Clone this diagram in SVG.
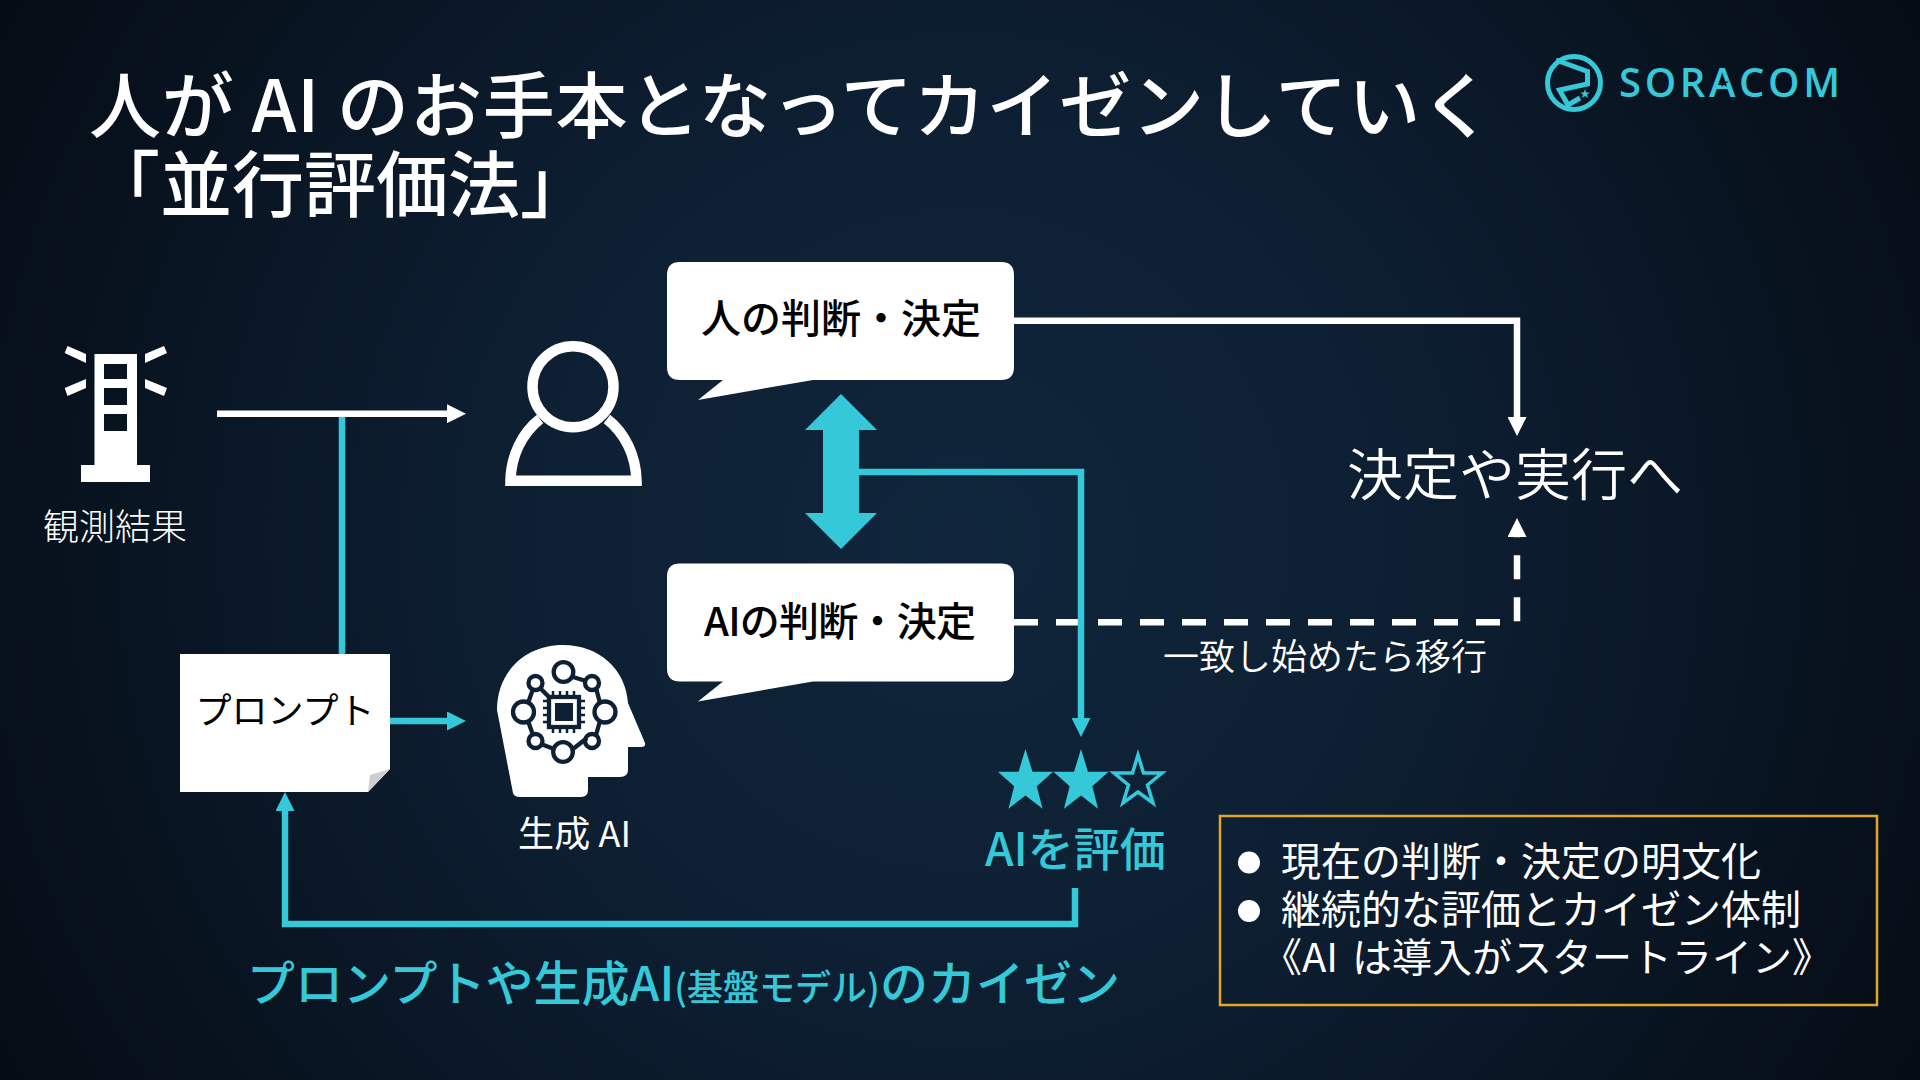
<svg xmlns="http://www.w3.org/2000/svg" xmlns:xlink="http://www.w3.org/1999/xlink" width="1920" height="1080" viewBox="0 0 1920 1080">
<style>
text{font-family:"Noto Sans CJK JP","Noto Sans",sans-serif;fill:#fff}
.w{fill:#fff}.t{fill:#35c8d8}
.lt{fill:none;stroke:#35c8d8;stroke-width:6.500}
.lw{fill:none;stroke:#fff;stroke-width:6.500}
.dk{fill:none;stroke:#0e2033;stroke-width:4.300}
.bt{font-size:40px;font-weight:500;fill:#000;text-anchor:middle}
.bl{font-size:40px;font-weight:400}
</style>
<defs>
<radialGradient id="bg" gradientUnits="userSpaceOnUse" cx="960" cy="540" r="1100">
<stop offset="0" stop-color="#10263c"/><stop offset="0.45" stop-color="#0d1e31"/><stop offset="1" stop-color="#050c15"/>
</radialGradient>
<marker id="hw" markerUnits="userSpaceOnUse" markerWidth="19" markerHeight="19" viewBox="0 0 19 19" refX="0" refY="9.5" orient="auto"><path d="M0 0L19 9.500L0 19Z" fill="#fff"/></marker>
<marker id="ht" markerUnits="userSpaceOnUse" markerWidth="19" markerHeight="19" viewBox="0 0 19 19" refX="0" refY="9.5" orient="auto"><path d="M0 0L19 9.500L0 19Z" fill="#35c8d8"/></marker>
<polygon id="star" points="0,-1 .24,-.309 .951,-.309 .39,.13 .588,.809 0,.41 -.588,.809 -.39,.13 -.951,-.309 -.24,-.309"/>
<path id="bubble" d="M13 0H334Q347 0 347 13V105Q347 118 334 118H146L31 138L56 118H13Q0 118 0 105V13Q0 0 13 0Z" fill="#fff"/>
</defs>
<rect width="1920" height="1080" fill="url(#bg)"/>

<g id="title">
<text x="89" y="132" font-size="72" font-weight="500" textLength="1404">人が AI のお手本となってカイゼンしていく</text>
<text x="88" y="211" font-size="72" font-weight="500">「並行評価法」</text>
</g>

<g id="logo">
<circle cx="1574" cy="83" r="26.500" fill="none" stroke="#35c8d8" stroke-width="5"/>
<path d="M1556 60L1587.500 71.500V84L1559.500 90L1568 105L1580 98" fill="none" stroke="#35c8d8" stroke-width="5"/>
<use xlink:href="#star" href="#star" transform="translate(1585 94) scale(5)" class="t"/>
<text x="1619" y="97" style="font-family:'Open Sans',sans-serif;fill:#35c8d8" font-size="40" font-weight="600" textLength="221" lengthAdjust="spacing">SORACOM</text>
<use xlink:href="#star" href="#star" transform="translate(1724 83) scale(5)" fill="#0a1522"/>
</g>

<g id="connectors">
<path class="lt" d="M342 417V660"/>
<path class="lw" d="M217 413.700H447" marker-end="url(#hw)"/>
<path class="lt" d="M390 721H447" marker-end="url(#ht)"/>
<path class="lt" d="M1075 888V924H285V811" marker-end="url(#ht)"/>
<path class="lw" d="M1014 320.700H1517V417" marker-end="url(#hw)"/>
<path class="lw" d="M1014 622.300H1517V537" stroke-dasharray="24 18" marker-end="url(#hw)"/>
<polygon class="t" points="841,394 877,430 859,430 859,513 877,513 841,549 805,513 823,513 823,430 805,430"/>
<path class="lt" d="M859 472H1081V718" marker-end="url(#ht)"/>
</g>

<g id="sensor">
<path class="w" d="M94.500 354H137V465H150V482H81V465H94.500ZM104 364V379H127V364ZM104 388V405H127V388ZM104 414V431H127V414Z" fill-rule="evenodd"/>
<path class="w" d="M67.500 346L86 354V363L64.700 353ZM145 354L164 346L167 353L145 363ZM86 379V388L67.500 396L64.700 388ZM145 379L167 388L164 396L145 388Z"/>
<text x="115" y="540" font-size="36" font-weight="300" text-anchor="middle">観測結果</text>
</g>

<g id="person" fill="none" stroke="#fff" stroke-width="10.500">
<circle cx="573" cy="386.700" r="40.500"/>
<path d="M540 419C522 433 511 456 510.500 480.700H636.500C636 456 625 433 607 419"/>
</g>

<g id="bubble-human">
<use xlink:href="#bubble" href="#bubble" x="667" y="262"/>
<text class="bt" x="841" y="333">人の判断・決定</text>
</g>

<g id="bubble-ai">
<use xlink:href="#bubble" href="#bubble" x="667" y="563.500"/>
<text class="bt" x="840" y="636" textLength="272">AIの判断・決定</text>
</g>

<g id="prompt">
<path class="w" d="M180 654H390V769L368 792H180Z"/>
<path d="M390 769L370 775L368 792Z" fill="#cfcfcf"/>
<text x="285" y="724" font-size="36" text-anchor="middle" style="fill:#000">プロンプト</text>
</g>

<g id="genai">
<path class="w" d="M513 793L497 710C497 672 525 645 563 645C600 645 626 670 628 703L645 743Q646 747 641 747H628V770Q628 777 620 777H588V790Q588 797 581 797H520Q514 797 513 793Z"/>
<g class="dk">
<rect x="549" y="697" width="30" height="30"/>
<circle cx="563.500" cy="672" r="9.800"/>
<circle cx="563" cy="752" r="9.800"/>
<circle cx="523.500" cy="712" r="10.500"/>
<circle cx="605" cy="712" r="10.500"/>
<circle cx="535.500" cy="683" r="7"/>
<circle cx="592" cy="683" r="7"/>
<circle cx="535.500" cy="741" r="7"/>
<circle cx="592" cy="741" r="7"/>
<path d="M540 688L549 697M573 677L586 681M528 703L533 689M600 703L596 688M528 721L533 735M600 721L596 735M541 744L554 749M573 749L587 738"/>
<path stroke-width="2.500" d="M553 691V696M560 691V696M567 691V696M574 691V696M553 728V733M560 728V733M567 728V733M574 728V733M543 701H548M543 708H548M543 715H548M543 722H548M580 701H585M580 708H585M580 715H585M580 722H585"/>
</g>
<rect x="555" y="703" width="18" height="18" fill="#0e2033"/>
<text x="518" y="847" font-size="36" textLength="113">生成 AI</text>
</g>

<g id="rating">
<use xlink:href="#star" href="#star" transform="translate(1025.500 782) scale(29 33)" class="t"/>
<use xlink:href="#star" href="#star" transform="translate(1081 782) scale(29 33)" class="t"/>
<polygon points="1138,755 1143.500,773 1162,773 1147.500,785 1153,803 1138,792 1123,803 1128.500,785 1114,773 1132.500,773" fill="none" stroke="#35c8d8" stroke-width="3.500"/>
<text x="985" y="866" font-size="46" font-weight="500" style="fill:#35c8d8">AIを評価</text>
</g>

<g id="decision">
<text x="1347" y="495" font-size="56" font-weight="350">決定や実行へ</text>
</g>
<text id="migrate-label" x="1163" y="670" font-size="36" font-weight="350">一致し始めたら移行</text>

<text id="kaizen-label" x="247" y="1001" font-size="48" font-weight="500" style="fill:#35c8d8">プロンプトや生成AI<tspan style="font-size:36px">(基盤モデル)</tspan>のカイゼン</text>

<g id="notes">
<rect x="1220" y="816" width="657" height="189" fill="none" stroke="#e3a62a" stroke-width="2.500"/>
<circle class="w" cx="1249" cy="862.500" r="11"/>
<circle class="w" cx="1249" cy="911" r="11"/>
<text class="bl" x="1281" y="876">現在の判断・決定の明文化</text>
<text class="bl" x="1281" y="924">継続的な評価とカイゼン体制</text>
<text class="bl" x="1262" y="972" word-spacing="5">《AI は導入がスタートライン》</text>
</g>
</svg>
